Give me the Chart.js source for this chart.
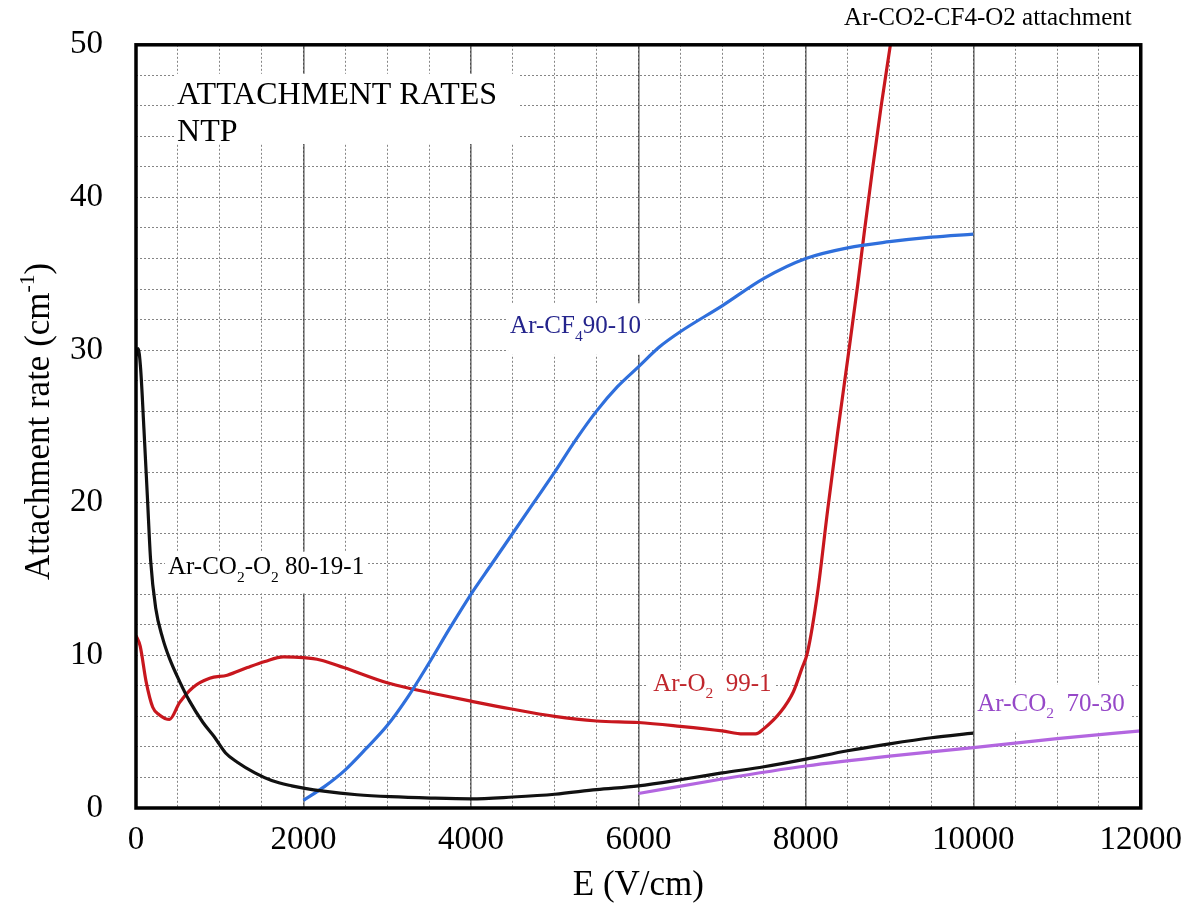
<!DOCTYPE html>
<html>
<head>
<meta charset="utf-8">
<script src="https://cdn.jsdelivr.net/npm/chart.js@4.4.1/dist/chart.umd.min.js"></script>
<style>
  html, body { margin: 0; padding: 0; background: #fff; }
  #wrap { width: 1195px; height: 912px; }
</style>
</head>
<body>
<div id="wrap"><canvas id="c" width="1195" height="912"></canvas></div>
<script>
// Electron attachment rate vs. drift field, NTP
const FONT = '"Liberation Serif", "Times New Roman", serif';

// Ar-CO2-O2 80-19-1
const arCo2O2E = [0, 25, 55, 95, 135, 175, 235, 320, 400, 520, 640, 800, 930, 1070, 1210, 1420, 1620, 1860, 2000, 2240, 2640, 3040, 3520, 4000, 4500, 5000, 5500, 6000, 6500, 7000, 7500, 8000, 8500, 9000, 9500, 10000];
const arCo2O2Rate = [29.6, 30.1, 28.8, 24.8, 20.5, 16.2, 13.1, 11.1, 9.8, 8.3, 7.0, 5.6, 4.7, 3.6, 3.0, 2.3, 1.8, 1.45, 1.3, 1.1, 0.87, 0.74, 0.65, 0.6, 0.72, 0.9, 1.2, 1.45, 1.85, 2.3, 2.7, 3.2, 3.75, 4.2, 4.6, 4.9];

// Ar-O2 99-1
const arO2E = [0, 50, 120, 200, 280, 400, 520, 680, 880, 1090, 1330, 1540, 1760, 2000, 2200, 2480, 3000, 3300, 3640, 4000, 4470, 5000, 5500, 6000, 6500, 7000, 7250, 7400, 7500, 7700, 7850, 7950, 8020, 8140, 8260, 8380, 8500, 8620, 8700, 8800, 8900, 9010];
const arO2Rate = [11.3, 10.6, 8.3, 6.6, 6.1, 5.8, 6.9, 7.9, 8.5, 8.7, 9.2, 9.6, 9.9, 9.85, 9.7, 9.2, 8.2, 7.8, 7.4, 7.0, 6.5, 6.0, 5.7, 5.6, 5.35, 5.05, 4.85, 4.85, 5.2, 6.3, 7.6, 9.1, 10.2, 14.1, 19.5, 24.6, 29.4, 34.3, 37.8, 42.0, 46.0, 50.0];

// Ar-CF4 90-10
const arCf4E = [2000, 2250, 2500, 2750, 3000, 3250, 3500, 3750, 4000, 4250, 4500, 4750, 5000, 5250, 5500, 5750, 6000, 6250, 6500, 7000, 7500, 8000, 8500, 9000, 9500, 10000];
const arCf4Rate = [0.5, 1.4, 2.5, 3.9, 5.4, 7.3, 9.5, 11.8, 14.0, 16.0, 18.0, 20.0, 22.0, 24.1, 26.0, 27.6, 28.9, 30.2, 31.2, 32.9, 34.7, 36.0, 36.7, 37.1, 37.4, 37.6];

// Ar-CO2 70-30
const arCo2E = [6000, 7000, 8000, 9000, 10000, 11000, 12000];
const arCo2Rate = [0.95, 1.9, 2.75, 3.4, 3.95, 4.55, 5.05];

// Axis ticks
const xTickValues = [0, 2000, 4000, 6000, 8000, 10000, 12000];
const yTickValues = [0, 10, 20, 30, 40, 50];

const pts = (xs, ys) => xs.map((x, i) => ({ x: x, y: ys[i] }));

// Text runs: [text, 'n' | 'sub' | 'sup']
function drawRuns(ctx, runs, x, y, size) {
  let cx = x;
  for (const [t, k] of runs) {
    const s = k === 'n' ? size : size * 0.62;
    ctx.font = s + 'px ' + FONT;
    const dy = k === 'sub' ? size * 0.3 : (k === 'sup' ? -size * 0.42 : 0);
    ctx.fillText(t, cx, y + dy);
    cx += ctx.measureText(t).width;
  }
  return cx - x;
}
function runsWidth(ctx, runs, size) {
  let w = 0;
  for (const [t, k] of runs) {
    const s = k === 'n' ? size : size * 0.62;
    ctx.font = s + 'px ' + FONT;
    w += ctx.measureText(t).width;
  }
  return w;
}

// In-plot annotations (data coordinates); each has a white backing box
const notes = [
  { lines: [[['ATTACHMENT RATES', 'n']], [['NTP', 'n']]], x: 490, y: [46.1, 43.7], size: 32, color: '#000',
    box: { x0: 454, x1: 4576, y0: 43.5, y1: 48.1 } },
  { lines: [[['Ar-CO', 'n'], ['2', 'sub'], ['-O', 'n'], ['2', 'sub'], [' 80-19-1', 'n']]], x: 382, y: [15.3], size: 25, color: '#000',
    box: { x0: 346, x1: 2760, y0: 14.06, y1: 16.8 } },
  { lines: [[['Ar-CF', 'n'], ['4', 'sub'], ['90-10', 'n']]], x: 4468, y: [31.1], size: 25, color: '#24248c',
    box: { x0: 4444, x1: 6081, y0: 29.69, y1: 33.07 } },
  { lines: [[['Ar-O', 'n'], ['2', 'sub'], ['  99-1', 'n']]], x: 6177, y: [7.68], size: 25, color: '#c0272d',
    box: { x0: 6093, x1: 7634, y0: 7.03, y1: 9.05 } },
  { lines: [[['Ar-CO', 'n'], ['2', 'sub'], ['  70-30', 'n']]], x: 10048, y: [6.38], size: 25, color: '#9648c8',
    box: { x0: 10024, x1: 11876, y0: 5.0, y1: 8.07 } }
];

const decor = {
  id: 'decor',
  beforeDatasetsDraw(chart) {
    const { ctx, scales: { x, y } } = chart;
    ctx.save();
    for (const n of notes) {
      const bx0 = x.getPixelForValue(n.box.x0), bx1 = x.getPixelForValue(n.box.x1);
      const by0 = y.getPixelForValue(n.box.y1), by1 = y.getPixelForValue(n.box.y0);
      ctx.fillStyle = '#fff';
      ctx.fillRect(bx0, by0, bx1 - bx0, by1 - by0);
      ctx.fillStyle = n.color;
      ctx.textBaseline = 'alphabetic';
      ctx.textAlign = 'left';
      n.lines.forEach((runs, i) => {
        drawRuns(ctx, runs, x.getPixelForValue(n.x), y.getPixelForValue(n.y[i]), n.size);
      });
    }
    ctx.restore();
  },
  afterDatasetsDraw(chart) {
    const { ctx, chartArea: a } = chart;
    ctx.save();
    ctx.strokeStyle = '#000';
    ctx.lineWidth = 3.5;
    ctx.strokeRect(a.left, a.top, a.right - a.left, a.bottom - a.top);
    ctx.restore();
  },
  afterDraw(chart) {
    const { ctx, chartArea: a } = chart;
    ctx.save();
    ctx.fillStyle = '#000';
    ctx.textBaseline = 'alphabetic';
    // Figure caption above the frame, right aligned
    ctx.font = '25px ' + FONT;
    ctx.textAlign = 'right';
    ctx.fillText('Ar-CO2-CF4-O2 attachment', a.right - 9, 25);
    // Vertical axis title with superscript
    const runs = [['Attachment rate (cm', 'n'], ['-1', 'sup'], [')', 'n']];
    const size = 35;
    const w = runsWidth(ctx, runs, size);
    ctx.translate(49, (a.top + a.bottom) / 2 - 5);
    ctx.rotate(-Math.PI / 2);
    ctx.textAlign = 'left';
    drawRuns(ctx, runs, -w / 2, 0, size);
    ctx.restore();
  }
};

const lineStyle = (color) => ({
  borderColor: color, backgroundColor: color, borderWidth: 3.2,
  pointRadius: 0, pointHoverRadius: 0, fill: false, showLine: true,
  cubicInterpolationMode: 'monotone'
});

new Chart(document.getElementById('c'), {
  type: 'line',
  data: {
    datasets: [
      Object.assign({ label: 'Ar-CO2-O2 80-19-1', data: pts(arCo2O2E, arCo2O2Rate) }, lineStyle('#111111')),
      Object.assign({ label: 'Ar-CO2 70-30', data: pts(arCo2E, arCo2Rate) }, lineStyle('#b366e0')),
      Object.assign({ label: 'Ar-CF4 90-10', data: pts(arCf4E, arCf4Rate) }, lineStyle('#2f6fdc')),
      Object.assign({ label: 'Ar-O2 99-1', data: pts(arO2E, arO2Rate) }, lineStyle('#c8171e'))
    ]
  },
  options: {
    responsive: false,
    animation: false,
    devicePixelRatio: 1,
    layout: { padding: { left: 0, top: 36, right: 51, bottom: 0 } },
    plugins: { legend: { display: false }, tooltip: { enabled: false }, title: { display: false } },
    scales: {
      x: {
        type: 'linear', position: 'bottom', min: 0, max: 12000,
        afterBuildTicks(s) { s.ticks = xTickValues.map(v => ({ value: v })); },
        ticks: { font: { family: FONT, size: 33 }, color: '#000', padding: 13, maxRotation: 0, autoSkip: false,
                 callback: (v) => String(v) },
        grid: { color: '#4d4d4d', lineWidth: 1.5, drawTicks: false },
        border: { display: false },
        title: { display: true, text: 'E (V/cm)', font: { family: FONT, size: 35 }, color: '#000', padding: { top: 0, bottom: 5 } },
        afterFit(s) { s.height = 104; }
      },
      xMinor: {
        type: 'linear', position: 'bottom', min: 0, max: 12000,
        ticks: { display: false, stepSize: 500 },
        grid: { color: '#858585', lineWidth: 1, drawTicks: false },
        border: { display: false, dash: [2, 2] },
        afterFit(s) { s.height = 0; }
      },
      y: {
        type: 'linear', position: 'left', min: 0, max: 50,
        afterBuildTicks(s) { s.ticks = yTickValues.map(v => ({ value: v })); },
        ticks: { font: { family: FONT, size: 33 }, color: '#000', padding: 25, callback: (v) => String(v) },
        grid: { display: false },
        border: { display: false },
        afterFit(s) { s.width = 136; }
      },
      yMinor: {
        type: 'linear', position: 'left', min: 0, max: 50,
        ticks: { display: false, stepSize: 2 },
        grid: { color: '#858585', lineWidth: 1, drawTicks: false },
        border: { display: false, dash: [2, 2] },
        afterFit(s) { s.width = 0; }
      }
    }
  },
  plugins: [decor]
});
</script>
</body>
</html>
